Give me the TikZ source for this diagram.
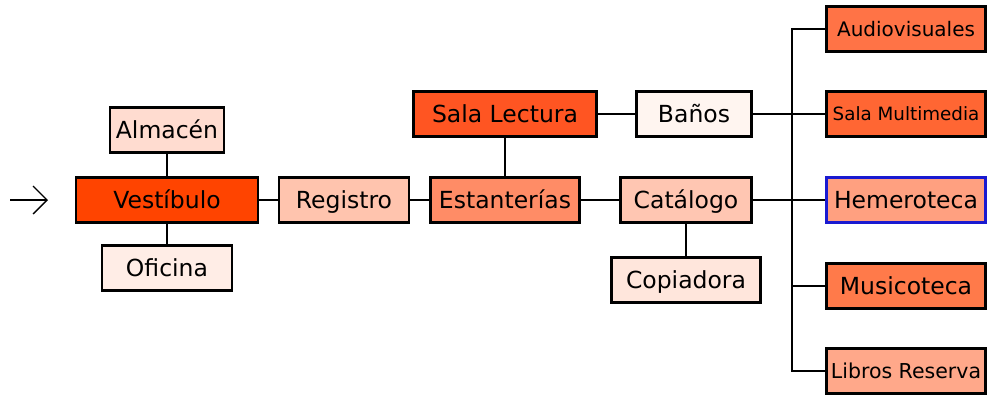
\documentclass[tikz,border=0pt]{standalone}
\usepackage{fontspec}
\setmainfont{DejaVu Sans}
\usetikzlibrary{arrows.meta}
\definecolor{cVes}{HTML}{FF4400}
\definecolor{cSal}{HTML}{FF5522}
\definecolor{cMul}{HTML}{FF6633}
\definecolor{cAud}{HTML}{FF7346}
\definecolor{cMus}{HTML}{FF7A4A}
\definecolor{cEst}{HTML}{FF8C66}
\definecolor{cHem}{HTML}{FFA080}
\definecolor{cLib}{HTML}{FFA88A}
\definecolor{cReg}{HTML}{FFC4AE}
\definecolor{cCat}{HTML}{FFC6B2}
\definecolor{cAlm}{HTML}{FFDCD0}
\definecolor{cCop}{HTML}{FFE6DC}
\definecolor{cOfi}{HTML}{FFEDE6}
\definecolor{cBan}{HTML}{FFF5F0}
\definecolor{cBlue}{HTML}{1A1AD0}
\begin{document}
\begin{tikzpicture}[x=1pt,y=-1pt,
  box/.style={draw=black,line width=2.2pt,inner sep=0pt,minimum height=45pt,
    text height=17pt,text depth=0pt,
    font=\fontsize{23.5}{26}\selectfont},
  fs/.style={font=\fontsize{#1}{#1}\selectfont,text height=0.73*#1pt},
  link/.style={line width=2pt}]
\useasboundingbox (0,0) rectangle (990,396);
\node[box,fill=cAlm,minimum width=114pt] (alm) at (167,130) {Almacén};
\node[box,fill=cVes,minimum width=182pt] (ves) at (167,200) {Vestíbulo};
\node[box,fill=cOfi,minimum width=130pt] (ofi) at (167,268) {Oficina};
\node[box,fill=cReg,minimum width=130pt] (reg) at (344,200) {Registro};
\node[box,fill=cSal,minimum width=183pt] (sal) at (505,114) {Sala Lectura};
\node[box,fill=cEst,minimum width=149pt] (est) at (505,200) {Estanterías};
\node[box,fill=cBan,minimum width=115pt] (ban) at (694,114) {Baños};
\node[box,fill=cCat,minimum width=131pt] (cat) at (686,200) {Catálogo};
\node[box,fill=cCop,minimum width=149pt] (cop) at (686,280) {Copiadora};
\node[box,fill=cAud,minimum width=159pt,fs=20] (aud) at (906,29) {Audiovisuales};
\node[box,fill=cMul,minimum width=159pt,fs=18.3] (mul) at (906,114) {Sala Multimedia};
\node[box,fill=cHem,draw=cBlue,minimum width=159pt] (hem) at (906,200) {Hemeroteca};
\node[box,fill=cMus,minimum width=159pt] (mus) at (906,286) {Musicoteca};
\node[box,fill=cLib,minimum width=159pt,fs=20.5] (lib) at (906,371) {Libros Reserva};
\coordinate (tk) at (792,0);
\coordinate (ina) at (10,200);
\coordinate (inb) at (48,200);
\draw[line width=1.4pt,-{Straight Barb[length=14pt,width=28pt]}] (ina) -- (inb);
\draw[link] (alm) -- (ves);
\draw[link] (ves) -- (ofi);
\draw[link] (ves) -- (reg);
\draw[link] (reg) -- (est);
\draw[link] (est) -- (sal);
\draw[link] (est) -- (cat);
\draw[link] (sal) -- (ban);
\draw[link] (cat) -- (cop);
\draw[link] (ban) -- (mul);
\draw[link] (cat) -- (hem);
\draw[link] (aud.west) -- (aud.west -| tk) -- (lib.west -| tk) -- (lib.west);
\draw[link] (mus.west) -- (mus.west -| tk);
\end{tikzpicture}
\end{document}
